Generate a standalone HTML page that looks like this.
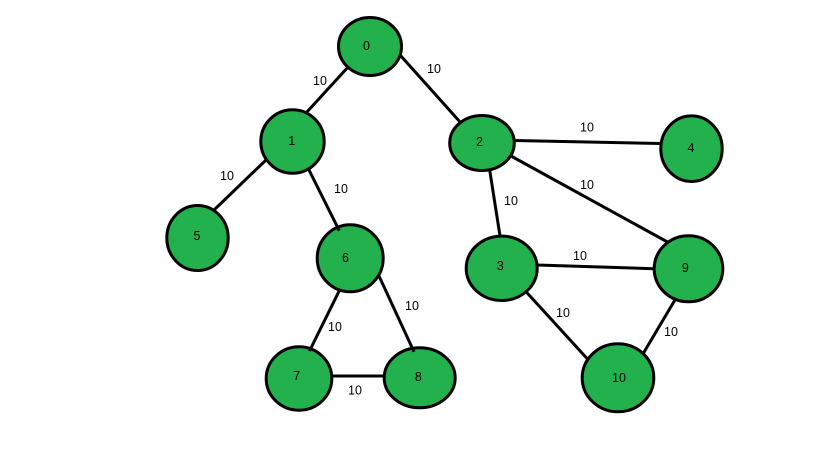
<!DOCTYPE html>
<html>
<head>
<meta charset="utf-8">
<style>
html,body{margin:0;padding:0;background:#fff;width:819px;height:460px;overflow:hidden}
svg{display:block}
text{font-family:"Liberation Sans",sans-serif;font-size:12.5px;fill:#000;text-anchor:middle}
ellipse{fill:#22b14c;stroke:#000;stroke-width:3}
line{stroke:#000;stroke-width:3}
</style>
</head>
<body>
<svg width="819" height="460" viewBox="0 0 819 460">
<ellipse cx="370" cy="46.5" rx="31.5" ry="29"/>
<ellipse cx="292.5" cy="141.5" rx="31.7" ry="31.7"/>
<ellipse cx="482" cy="143" rx="32.3" ry="27.5"/>
<ellipse cx="691.5" cy="148.7" rx="30.7" ry="32.8"/>
<ellipse cx="197.5" cy="238" rx="30.7" ry="32.5"/>
<ellipse cx="350.2" cy="258.3" rx="33" ry="33.5"/>
<ellipse cx="501.7" cy="268.3" rx="35.5" ry="32.2"/>
<ellipse cx="688.5" cy="268.8" rx="34.3" ry="33"/>
<ellipse cx="299" cy="378.5" rx="32.8" ry="31.7"/>
<ellipse cx="419.7" cy="377.8" rx="35.5" ry="30"/>
<ellipse cx="618" cy="377.8" rx="35.8" ry="34"/>
<line x1="349" y1="66" x2="306" y2="113"/>
<line x1="400.5" y1="55.5" x2="460.5" y2="122.5"/>
<line x1="266" y1="160" x2="213.5" y2="210.5"/>
<line x1="308" y1="168" x2="339.3" y2="230.7"/>
<line x1="514" y1="140.5" x2="661" y2="143.5"/>
<line x1="511" y1="156" x2="667.5" y2="242"/>
<line x1="489.7" y1="170" x2="500" y2="236"/>
<line x1="537" y1="265" x2="654" y2="268.7"/>
<line x1="526.3" y1="292" x2="587.5" y2="359"/>
<line x1="675.5" y1="299" x2="643.5" y2="353"/>
<line x1="339.3" y1="290.7" x2="309.5" y2="351"/>
<line x1="379" y1="276" x2="414" y2="351.7"/>
<line x1="331" y1="376" x2="385" y2="376"/>
<text x="366.5" y="50">0</text>
<text x="291.7" y="145">1</text>
<text x="479.5" y="146">2</text>
<text x="691" y="152">4</text>
<text x="197" y="240">5</text>
<text x="345.5" y="262">6</text>
<text x="500.3" y="270">3</text>
<text x="685.3" y="272">9</text>
<text x="296.7" y="380">7</text>
<text x="418.3" y="381">8</text>
<text x="619" y="382">10</text>
<text x="320" y="85">10</text>
<text x="434" y="73">10</text>
<text x="227" y="180">10</text>
<text x="341" y="193">10</text>
<text x="587" y="131.5">10</text>
<text x="587" y="189">10</text>
<text x="511" y="205">10</text>
<text x="580" y="260">10</text>
<text x="563" y="317">10</text>
<text x="671" y="336">10</text>
<text x="335" y="331">10</text>
<text x="412" y="310">10</text>
<text x="355" y="394.5">10</text>
</svg>
</body>
</html>
